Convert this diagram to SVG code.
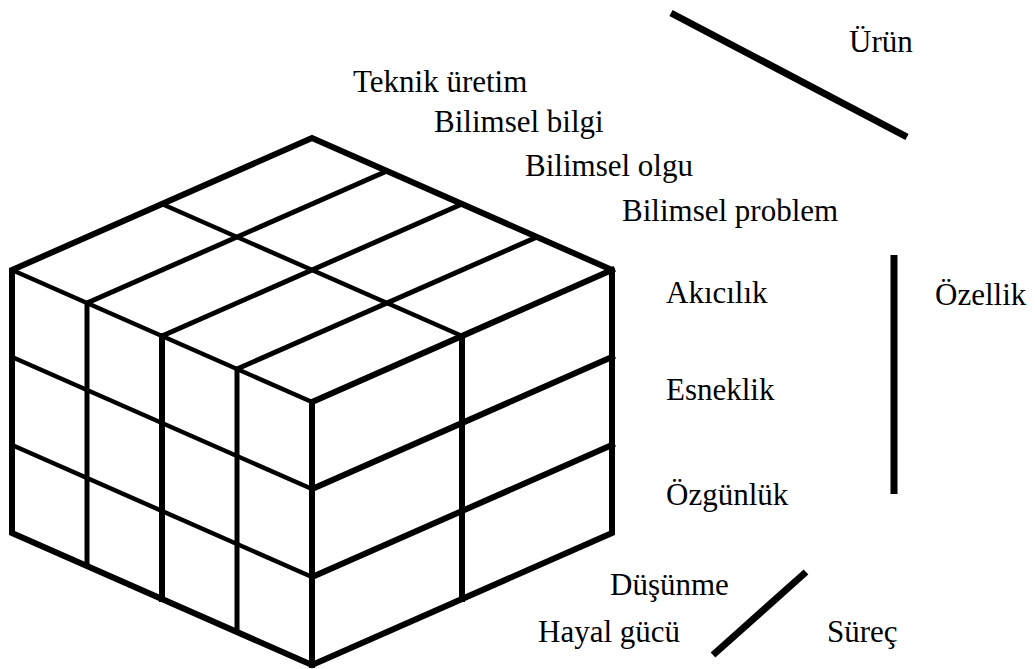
<svg xmlns="http://www.w3.org/2000/svg" width="1035" height="669" viewBox="0 0 1035 669">
  <style>
    .e { stroke: #000; stroke-width: 6; fill: none; stroke-linecap: square; stroke-linejoin: miter; }
    .i { stroke: #000; stroke-width: 5; fill: none; stroke-linecap: butt; }
    .t { stroke: #000; stroke-width: 4.5; fill: none; stroke-linecap: butt; }
    .ax { stroke: #000; stroke-width: 7; fill: none; stroke-linecap: butt; }
    .lbl { font-family: 'Liberation Serif', 'DejaVu Serif', serif; font-size: 31px; fill: #000; }
  </style>
  <rect width="1035" height="669" fill="#fff"/>
  <g id="cube">
    <g id="top-face">
      <line class="i" x1="87" y1="303" x2="387" y2="171"/>
      <line class="i" x1="162" y1="336" x2="462" y2="204"/>
      <line class="i" x1="237" y1="369" x2="537" y2="237"/>
      <line class="t" x1="162" y1="204" x2="462" y2="336"/>
    </g>
    <g id="left-face">
      <line class="i" x1="87" y1="303" x2="87" y2="566"/>
      <line class="e" x1="162" y1="336" x2="162" y2="599"/>
      <line class="i" x1="237" y1="369" x2="237" y2="632"/>
      <line class="t" x1="12" y1="357" x2="312" y2="489"/>
      <line class="t" x1="12" y1="445" x2="312" y2="577"/>
    </g>
    <g id="right-face">
      <line class="e" x1="462" y1="336" x2="462" y2="599"/>
      <line class="e" x1="312" y1="489" x2="612" y2="357"/>
      <line class="e" x1="312" y1="577" x2="612" y2="445"/>
    </g>
    <g id="outline">
      <polygon class="e" points="12,270 312,138 612,270 612,533 312,665 12,533"/>
      <line class="t" x1="12" y1="270" x2="312" y2="402"/>
      <line class="e" x1="312" y1="402" x2="612" y2="270"/>
      <line class="e" x1="312" y1="402" x2="312" y2="665"/>
    </g>
  </g>
  <g id="connectors">
    <line class="ax" x1="671" y1="13" x2="907" y2="137"/>
    <line class="ax" x1="894" y1="255" x2="894" y2="494"/>
    <line class="ax" x1="806" y1="572" x2="713" y2="655"/>
  </g>
  <g id="urun-axis" class="lbl" font-family="Liberation Serif, serif">
    <text x="849" y="52">Ürün</text>
    <text x="353" y="92">Teknik üretim</text>
    <text x="434" y="132">Bilimsel bilgi</text>
    <text x="525" y="176">Bilimsel olgu</text>
    <text x="622" y="221">Bilimsel problem</text>
  </g>
  <g id="ozellik-axis" class="lbl" font-family="Liberation Serif, serif">
    <text x="935" y="305">Özellik</text>
    <text x="666" y="303">Akıcılık</text>
    <text x="666" y="400">Esneklik</text>
    <text x="666" y="505">Özgünlük</text>
  </g>
  <g id="surec-axis" class="lbl" font-family="Liberation Serif, serif">
    <text x="827" y="642">Süreç</text>
    <text x="610" y="595">Düşünme</text>
    <text x="538" y="642">Hayal gücü</text>
  </g>
</svg>
